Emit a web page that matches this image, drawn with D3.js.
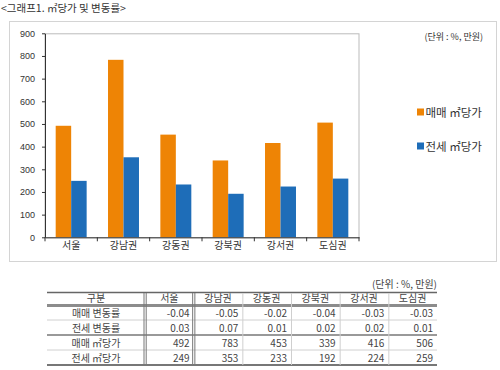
<!DOCTYPE html>
<html><head><meta charset="utf-8">
<script src="https://cdn.jsdelivr.net/npm/d3@7/dist/d3.min.js"></script>
<style>body{margin:0;background:#fff}svg{display:block;font-family:"Noto Sans CJK KR","DejaVu Sans",sans-serif}</style>
</head><body>
<svg id="c" width="500" height="370"></svg>
<script>
const categories = ["서울","강남권","강동권","강북권","강서권","도심권"];
const seriesNames = ["매매 ㎡당가","전세 ㎡당가"];
const saleValues = [492,783,453,339,416,506];
const jeonseValues = [249,353,233,192,224,259];
const saleChange = [-0.04,-0.05,-0.02,-0.04,-0.03,-0.03];
const jeonseChange = [0.03,0.07,0.01,0.02,0.02,0.01];
const yTicks = [0,100,200,300,400,500,600,700,800,900];
const rowLabels = ["매매 변동률","전세 변동률","매매 ㎡당가","전세 ㎡당가"];
const headerLabel = "구분";
const titleText = "<그래프1. ㎡당가 및 변동률>";
const unitText = "(단위 : %, 만원)";

const colors = ["#EE8405","#1E6DB8"];
const svg = d3.select("#c");
const ink = "#333";

svg.append("text").attr("x",1).attr("y",12).attr("font-size",10.5).attr("fill",ink).text(titleText);
svg.append("rect").attr("x",9.5).attr("y",21.5).attr("width",487).attr("height",240)
  .attr("fill","none").attr("stroke","#d4d4d4");

const L=45,R=359,T=33.3,B=237.3;
const x = d3.scaleBand().domain(categories).range([L,R]);
const xs = d3.scaleBand().domain(seriesNames).range([0,x.bandwidth()]).paddingOuter(0.69);
const y = d3.scaleLinear().domain([0,900]).range([B,T]);

svg.append("rect").attr("x",L).attr("y",T+0.5).attr("width",R-L).attr("height",B-T)
  .attr("fill","none").attr("stroke","#bbb");

const data = categories.map((c,i)=>({c, v:[saleValues[i], jeonseValues[i]]}));
const g = svg.append("g");
data.forEach(d=>{
  seriesNames.forEach((s,j)=>{
    g.append("rect").attr("x",x(d.c)+xs(s)).attr("width",xs.bandwidth())
      .attr("y",y(d.v[j])).attr("height",B-y(d.v[j])).attr("fill",colors[j]);
  });
});

const ya = svg.append("g").attr("transform",`translate(${L},0)`)
  .call(d3.axisLeft(y).tickValues(yTicks).tickSize(3).tickPadding(7).tickSizeOuter(0));
ya.select(".domain").attr("stroke","#333");
ya.selectAll(".tick line").attr("stroke","#333");
ya.selectAll("text").attr("font-size",9).attr("fill",ink).attr("font-family","Liberation Sans, Arial, sans-serif");

const xa = svg.append("g").attr("transform",`translate(0,${B})`)
  .call(d3.axisBottom(x).tickSize(0).tickPadding(5).tickSizeOuter(0));
xa.select(".domain").attr("stroke","#333");
xa.selectAll("text").attr("font-size",10).attr("fill",ink).attr("font-family","Noto Sans CJK KR, sans-serif");
const bounds = categories.map(c=>x(c)).concat([x.range()[1]]);
svg.append("g").selectAll("line").data(bounds).join("line")
  .attr("x1",d=>d).attr("x2",d=>d).attr("y1",B).attr("y2",B+4).attr("stroke","#333");

svg.append("text").attr("x",483).attr("y",40).attr("text-anchor","end").attr("font-size",9).attr("fill",ink).text(unitText);
const lg = svg.append("g");
seriesNames.forEach((s,j)=>{
  const yy = 112.5 + j*34;
  lg.append("rect").attr("x",417).attr("y",yy-4).attr("width",7).attr("height",7).attr("fill",colors[j]);
  lg.append("text").attr("x",425.5).attr("y",yy+4).attr("font-size",11.5).attr("fill",ink).text(s);
});

// table
const tL=47, tR=437, tT=293, hB=305, tB=365;
const cx = d3.scaleBand().domain(categories).range([145,tR]);
const ry = d3.scaleBand().domain(d3.range(rowLabels.length)).range([hB,tB]);
const tableRows = [
  saleChange.map(v=>v.toFixed(2)),
  jeonseChange.map(v=>v.toFixed(2)),
  saleValues.map(String),
  jeonseValues.map(String)
];
const tg = svg.append("g").attr("font-size",10).attr("fill","#444");
svg.append("text").attr("x",tR).attr("y",288).attr("text-anchor","end").attr("font-size",10).attr("fill","#444").text(unitText);
tg.append("text").attr("x",(tL+145)/2).attr("y",hB-3).attr("text-anchor","middle").text(headerLabel);
categories.forEach(c=>{
  tg.append("text").attr("x",cx(c)+cx.bandwidth()/2).attr("y",hB-3).attr("text-anchor","middle").text(c);
});
rowLabels.forEach((r,i)=>{
  const yb = ry(i)+ry.bandwidth()-3.5;
  tg.append("text").attr("x",(tL+145)/2).attr("y",yb).attr("text-anchor","middle").text(r);
  categories.forEach((c,k)=>{
    tg.append("text").attr("x",cx(c)+cx.bandwidth()-4).attr("y",yb).attr("text-anchor","end").text(tableRows[i][k]);
  });
});
const hl = (yy,w,col)=>svg.append("line").attr("x1",tL).attr("x2",tR).attr("y1",yy).attr("y2",yy).attr("stroke",col).attr("stroke-width",w);
hl(tT-0.5,1.5,"#666");
hl(hB+0.5,3,"#8c8c8c");
hl(ry(1),1,"#d0d0d0");
hl(ry(2),1.5,"#777");
hl(ry(3),1,"#d0d0d0");
hl(tB,2,"#777");
const vl = (xx,w,col)=>svg.append("line").attr("x1",xx).attr("x2",xx).attr("y1",tT).attr("y2",tB).attr("stroke",col).attr("stroke-width",w);
categories.slice(2).forEach(c=>vl(cx(c)+0.5,1,"#cfcfcf"));
[145,cx(categories[1])].forEach(xx=>{ vl(xx-1,1,"#777"); vl(xx+1.2,1,"#777"); });
</script>
</body></html>
